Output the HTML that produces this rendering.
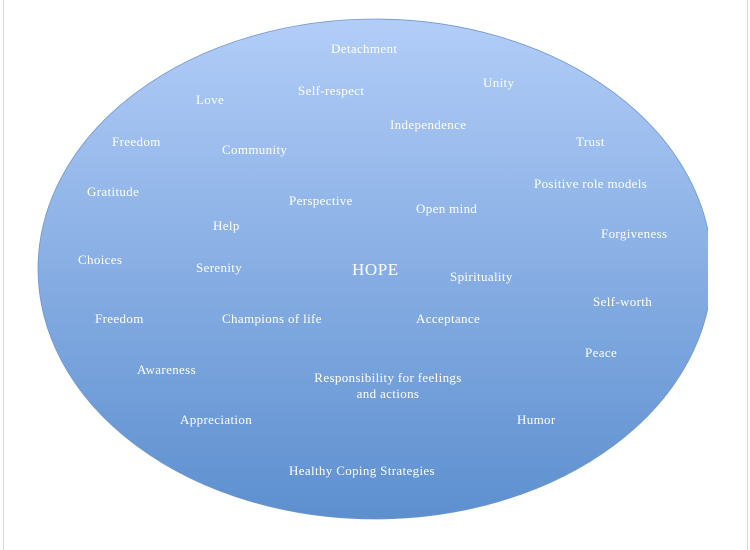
<!DOCTYPE html>
<html><head><meta charset="utf-8"><style>
html,body{margin:0;padding:0;width:750px;height:550px;overflow:hidden;background:#fff;position:relative}
.t{position:absolute;color:#fff;font-family:"Liberation Serif",serif;font-size:13px;letter-spacing:0.35px;line-height:16px;white-space:nowrap}
.l{position:absolute;top:0;width:1px;height:550px;background:#d8d8d8}
</style></head><body>
<div class="l" style="left:3px"></div>
<div class="l" style="left:747px"></div>
<svg width="750" height="550" style="position:absolute;left:0;top:0">
<defs><linearGradient id="g" x1="0" y1="0" x2="0" y2="1">
<stop offset="0" stop-color="#b2cdf8"/><stop offset="1" stop-color="#5d8fcf"/></linearGradient>
<clipPath id="c"><rect x="0" y="0" width="708" height="550"/></clipPath></defs>
<ellipse cx="375" cy="269" rx="337" ry="250" fill="url(#g)" stroke="#6f98cc" stroke-width="0.8" clip-path="url(#c)"/>
</svg>
<div class="t" style="left:331px;top:41px">Detachment</div>
<div class="t" style="left:483px;top:75px">Unity</div>
<div class="t" style="left:196px;top:92px">Love</div>
<div class="t" style="left:298px;top:83px">Self-respect</div>
<div class="t" style="left:390px;top:117px">Independence</div>
<div class="t" style="left:576px;top:134px">Trust</div>
<div class="t" style="left:112px;top:134px">Freedom</div>
<div class="t" style="left:222px;top:142px">Community</div>
<div class="t" style="left:534px;top:176px">Positive role models</div>
<div class="t" style="left:87px;top:184px">Gratitude</div>
<div class="t" style="left:289px;top:193px">Perspective</div>
<div class="t" style="left:416px;top:201px">Open mind</div>
<div class="t" style="left:213px;top:218px">Help</div>
<div class="t" style="left:601px;top:226px">Forgiveness</div>
<div class="t" style="left:78px;top:252px">Choices</div>
<div class="t" style="left:196px;top:260px">Serenity</div>
<div class="t" style="left:352px;top:259px;font-size:17px;letter-spacing:0.6px;line-height:22px">HOPE</div>
<div class="t" style="left:450px;top:269px">Spirituality</div>
<div class="t" style="left:593px;top:294px">Self-worth</div>
<div class="t" style="left:95px;top:311px">Freedom</div>
<div class="t" style="left:222px;top:311px">Champions of life</div>
<div class="t" style="left:416px;top:311px">Acceptance</div>
<div class="t" style="left:585px;top:345px">Peace</div>
<div class="t" style="left:137px;top:362px">Awareness</div>
<div class="t" style="left:298px;top:370px;width:180px;text-align:center;white-space:normal">Responsibility for feelings<br>and actions</div>
<div class="t" style="left:180px;top:412px">Appreciation</div>
<div class="t" style="left:517px;top:412px">Humor</div>
<div class="t" style="left:289px;top:463px">Healthy Coping Strategies</div>
</body></html>
